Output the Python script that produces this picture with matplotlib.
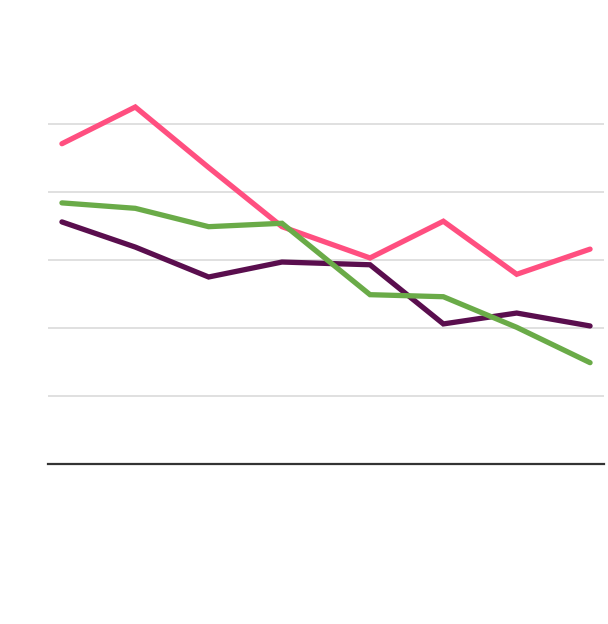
import matplotlib
matplotlib.use("Agg")
import matplotlib.pyplot as plt

# x positions (one gap is a bit wider than the others)
periods = [0, 1, 2, 3, 4.2, 5.2, 6.2, 7.2]

pink_values = [47.1, 52.5, 43.6, 34.9, 30.3, 35.7, 27.9, 31.6]
green_values = [38.4, 37.6, 34.9, 35.4, 24.9, 24.6, 20.1, 14.9]
purple_values = [35.6, 31.9, 27.5, 29.7, 29.3, 20.6, 22.2, 20.3]

grid_levels = [10, 20, 30, 40, 50]

fig = plt.figure(figsize=(6.08, 6.24), dpi=100)
ax = fig.add_axes([48 / 608, (624 - 464) / 624, 556 / 608, 408 / 624])

for level in grid_levels:
    ax.axhline(level, color="#dddddd", linewidth=1.3, zorder=1)

line_style = dict(linewidth=3.8, solid_capstyle="round", solid_joinstyle="miter")
ax.plot(periods, pink_values, color="#ff4f80", zorder=3, **line_style)
ax.plot(periods, purple_values, color="#5a0e4e", zorder=3, **line_style)
ax.plot(periods, green_values, color="#6aab48", zorder=4, **line_style)

ax.set_xlim(-0.19, 7.39)
ax.set_ylim(0, 60)

for side in ["top", "right", "left"]:
    ax.spines[side].set_visible(False)
ax.spines["bottom"].set_color("#333333")
ax.spines["bottom"].set_linewidth(1.6)
ax.set_xticks([])
ax.set_yticks([])

fig.savefig("out.png", dpi=100, facecolor="white")
